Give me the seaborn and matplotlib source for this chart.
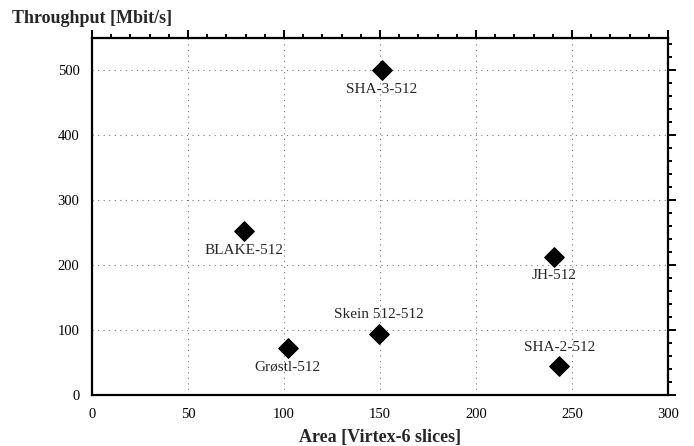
import matplotlib
matplotlib.use("Agg")
import matplotlib.pyplot as plt
import seaborn as sns
import pandas as pd
from matplotlib.ticker import MultipleLocator

names = ["SHA-3-512", "BLAKE-512", "JH-512", "Skein 512-512", "Grøstl-512", "SHA-2-512"]
area = [151, 79, 240.5, 149.3, 102, 243.4]
throughput = [500, 252, 213, 94, 72, 44]
label_above = [False, False, False, True, False, True]

df = pd.DataFrame({"area": area, "tp": throughput, "name": names})

sns.set_style("white")
plt.rcParams["font.family"] = ["Liberation Serif", "DejaVu Serif"]

fig = plt.figure(figsize=(6.94, 4.46), dpi=100)
ax = fig.add_axes([0.1326, 0.1143, 0.83, 0.8007])

sns.scatterplot(data=df, x="area", y="tp", marker="D", s=100, color="black",
                edgecolor="black", ax=ax, zorder=3)

for x, y, n, up in zip(area, throughput, names, label_above):
    if up:
        ax.annotate(n, (x, y), xytext=(0, 9), textcoords="offset points",
                    ha="center", va="bottom", fontsize=11)
    else:
        ax.annotate(n, (x, y), xytext=(0, -9), textcoords="offset points",
                    ha="center", va="top", fontsize=11)

ax.set_xlim(0, 300)
ax.set_ylim(0, 550)
ax.xaxis.set_major_locator(MultipleLocator(50))
ax.xaxis.set_minor_locator(MultipleLocator(10))
ax.yaxis.set_major_locator(MultipleLocator(100))
ax.yaxis.set_minor_locator(MultipleLocator(20))
ax.set_yticks([0, 100, 200, 300, 400, 500])

ax.grid(True, which="major", color="#777777", linestyle=(0, (1, 4)), linewidth=0.8)
for s in ax.spines.values():
    s.set_linewidth(1.6)
    s.set_color("black")

ax.tick_params(which="both", direction="out", top=True, right=True,
               labeltop=False, labelright=False, colors="black", labelsize=10.5)
ax.tick_params(which="major", length=6, width=1.4, pad=3)
ax.tick_params(which="minor", length=3, width=1.4)

ax.set_xlabel("Area [Virtex-6 slices]", fontsize=13, fontweight="bold", labelpad=6)
ax.set_ylabel("")
fig.text(0.017, 0.948, "Throughput [Mbit/s]", fontsize=13, fontweight="bold",
         ha="left", va="baseline")

fig.savefig("out.png", dpi=100)
